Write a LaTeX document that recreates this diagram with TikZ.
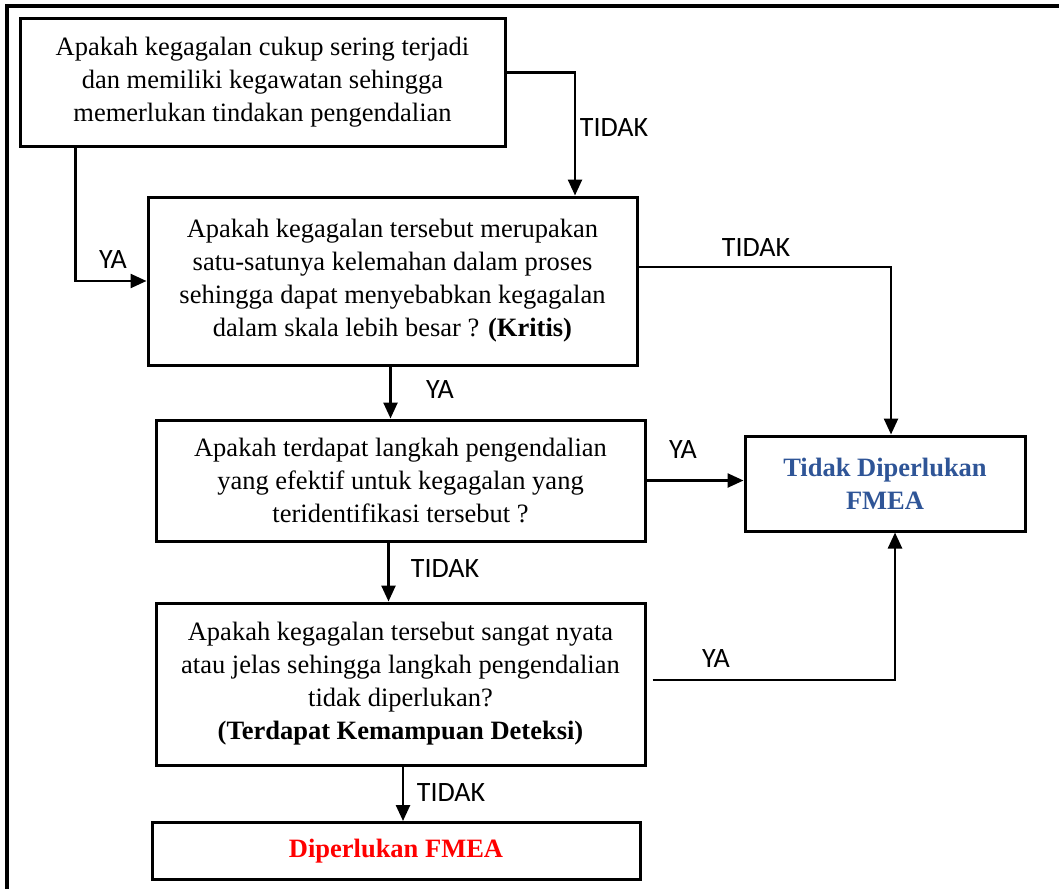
\documentclass[tikz,border=0pt]{standalone}
\usepackage{fontspec}
\setmainfont{Liberation Serif}
\newfontfamily\ketfont{Carlito}
\usetikzlibrary{arrows.meta}
\definecolor{fmeablue}{HTML}{2F5597}
\definecolor{fmeared}{HTML}{FF0000}

\tikzset{
  kotak/.style={draw, rectangle, line width=3pt, align=center, inner sep=0pt,
    font=\fontsize{26.5}{33}\selectfont},
  ket/.style={font=\ketfont\fontsize{28}{30}\selectfont},
  panah/.style={-{Triangle[length=16pt,width=14pt]}, line width=2.5pt}
}

\begin{document}
\begin{tikzpicture}[x=1pt, y=-1pt, node distance=2cm]
    \useasboundingbox (0,0) rectangle (1059,888);
    \draw [line width=3.2pt] (7,6) rectangle (1090,910);

    % Nodes
    \node [kotak, minimum width=485pt, minimum height=127pt] (q1) at (262.5,82.5)
      {Apakah kegagalan cukup sering terjadi\\dan memiliki kegawatan sehingga\\memerlukan tindakan pengendalian};
    \node [kotak, below of=q1, node distance=198.5pt, xshift=130pt,
      minimum width=489pt, minimum height=168pt] (q2)
      {Apakah kegagalan tersebut merupakan\\satu-satunya kelemahan dalam proses\\sehingga dapat menyebabkan kegagalan\\dalam skala lebih besar ? \textbf{(Kritis)}};
    \node [kotak, below of=q2, node distance=199.5pt, xshift=8pt,
      minimum width=489pt, minimum height=121pt] (q3)
      {Apakah terdapat langkah pengendalian\\yang efektif untuk kegagalan yang\\teridentifikasi tersebut ?};
    \node [kotak, below of=q3, node distance=203.5pt,
      minimum width=489pt, minimum height=162pt] (q4)
      {Apakah kegagalan tersebut sangat nyata\\atau jelas sehingga langkah pengendalian\\tidak diperlukan?\\\textbf{(Terdapat Kemampuan Deteksi)}};
    \node [kotak, below of=q4, node distance=167pt, xshift=-4.5pt,
      minimum width=488pt, minimum height=57pt, text=fmeared] (perlu)
      {\textbf{Diperlukan FMEA}};
    \node [kotak, right of=q3, node distance=484.5pt, yshift=-3pt,
      minimum width=280pt, minimum height=95pt, text=fmeablue] (tidakperlu)
      {\textbf{Tidak Diperlukan}\\\textbf{FMEA}};

    % Labels
    \node [ket] (ya1) at (113,260) {YA};
    \node [ket] (tidak1) at (614,128) {TIDAK};
    \node [ket] (tidak2) at (756,248) {TIDAK};
    \node [ket] (ya2) at (440,390) {YA};
    \node [ket] (ya3) at (683,450) {YA};
    \node [ket] (tidak3) at (445,569) {TIDAK};
    \node [ket] (ya4) at (716,659) {YA};
    \node [ket] (tidak4) at (451,793) {TIDAK};

    % Arrows
    \draw [panah] ([xshift=57pt]q1.south west) |- (q2.west);
    \draw [panah] ([yshift=10pt]q1.east) -| ([xshift=182.5pt]q2.north);
    \draw [panah] ([yshift=14pt]q2.east) -| ([xshift=6pt]tidakperlu.north);
    \draw [panah] ([xshift=-2pt]q2.south) -- ([xshift=-2pt]q2.south |- q3.north);
    \draw [panah] (q3.east) -- (q3.east -| tidakperlu.west);
    \draw [panah] ([xshift=-12pt]q3.south) -- ([xshift=-12pt]q3.south |- q4.north);
    \draw [panah] ([xshift=6pt,yshift=4pt]q4.east) -| ([xshift=10pt]tidakperlu.south);
    \draw [panah] ([xshift=2.5pt]q4.south) -- ([xshift=2.5pt]q4.south |- perlu.north);
\end{tikzpicture}
\end{document}
